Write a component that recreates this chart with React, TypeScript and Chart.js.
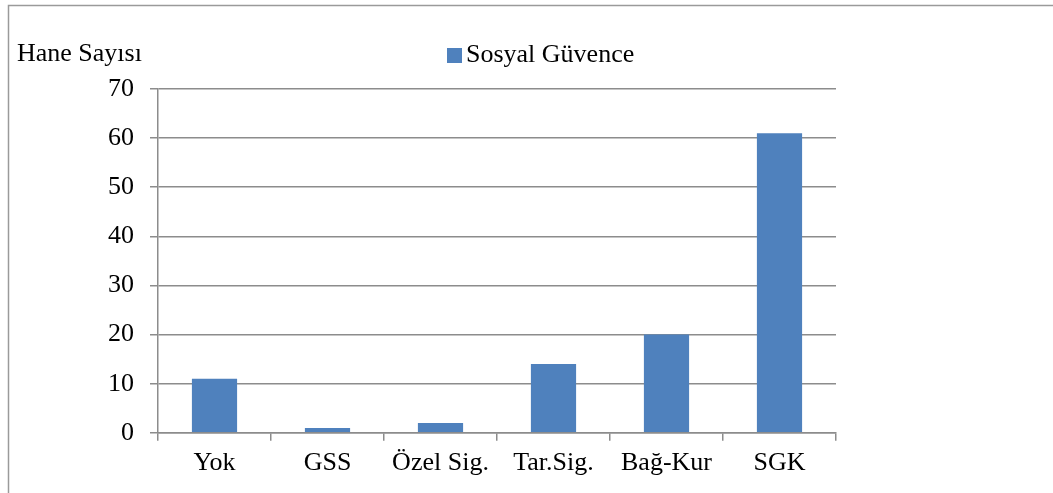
import React, { useEffect, useRef } from "react";
import { Chart, registerables } from "chart.js";

Chart.register(...registerables);

const categories = ["Yok", "GSS", "Özel Sig.", "Tar.Sig.", "Bağ-Kur", "SGK"];
const values = [11, 1, 2, 14, 20, 61];
const seriesLabel = "Sosyal Güvence";
const yTitle = "Hane Sayısı";
const yMin = 0;
const yMax = 70;
const yStep = 10;

const FONT = "'Liberation Serif', 'Times New Roman', serif";
const BAR = "#4F81BD";
const GRID = "#8c8c8c";
const FS = 26;

const overlay = {
  id: "overlay",
  afterDraw(chart: any) {
    const ctx = chart.ctx;
    ctx.save();
    ctx.strokeStyle = "#9a9a9a";
    ctx.lineWidth = 1.5;
    ctx.beginPath();
    ctx.moveTo(8.5, chart.height);
    ctx.lineTo(8.5, 5.5);
    ctx.lineTo(chart.width, 5.5);
    ctx.stroke();
    ctx.fillStyle = "#000";
    ctx.font = `${FS}px ${FONT}`;
    ctx.textBaseline = "alphabetic";
    ctx.textAlign = "left";
    ctx.fillText(yTitle, 17, 61);
    ctx.fillStyle = BAR;
    ctx.fillRect(447, 48, 15, 15);
    ctx.fillStyle = "#000";
    ctx.fillText(seriesLabel, 466, 62);
    ctx.restore();
  },
};

export default function App() {
  const ref = useRef<HTMLCanvasElement>(null);
  useEffect(() => {
    document.body.style.margin = "0";
    const chart = new Chart(ref.current!, {
      type: "bar",
      data: {
        labels: categories,
        datasets: [
          {
            label: seriesLabel,
            data: values,
            backgroundColor: BAR,
            barPercentage: 0.4,
            categoryPercentage: 1,
          },
        ],
      },
      options: {
        animation: false,
        responsive: false,
        layout: { padding: { top: 89, left: 92, right: 217, bottom: 7 } },
        plugins: { legend: { display: false }, tooltip: { enabled: false } },
        scales: {
          x: {
            offset: true,
            grid: {
              offset: true,
              drawOnChartArea: false,
              drawTicks: true,
              tickLength: 8,
              color: GRID,
              lineWidth: 1.5,
            },
            border: { color: GRID, width: 1.5 },
            ticks: {
              color: "#000",
              font: { family: FONT, size: FS },
              padding: 7,
              maxRotation: 0,
            },
          },
          y: {
            min: yMin,
            max: yMax,
            grid: {
              color: GRID,
              lineWidth: 1.5,
              tickLength: 8,
            },
            border: { color: GRID, width: 1.5 },
            ticks: {
              stepSize: yStep,
              color: "#000",
              font: { family: FONT, size: FS },
              padding: 16,
            },
          },
        },
      },
      plugins: [overlay],
    });
    return () => chart.destroy();
  }, []);
  return (
    <div style={{ position: "fixed", left: 0, top: 0, width: 1053, height: 493, background: "#fff" }}>
      <canvas ref={ref} width={1053} height={493} style={{ display: "block" }} />
    </div>
  );
}
